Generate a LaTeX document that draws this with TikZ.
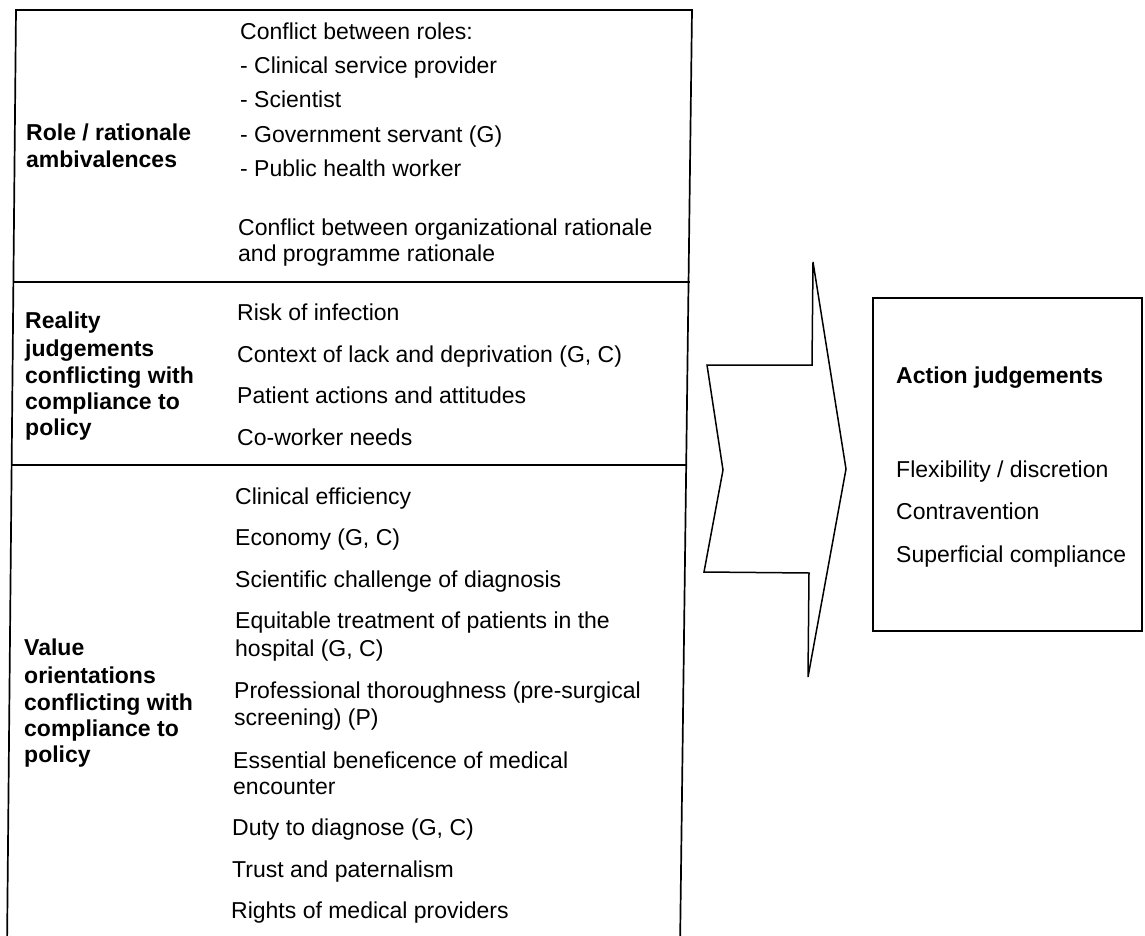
\documentclass[tikz,border=0pt]{standalone}
\usepackage{fontspec}
\setmainfont{Liberation Sans}
\begin{document}
\begin{tikzpicture}[x=1pt,y=-1pt,
  frame/.style={line width=1.7pt, line join=miter, line cap=rect},
  item/.style={anchor=base west, inner sep=0pt, font=\fontsize{23}{28}\selectfont},
  head/.style={anchor=base west, inner sep=0pt, font=\fontsize{23}{28}\selectfont\bfseries}]
\useasboundingbox (0,0) rectangle (1145,936);

% left panel: frame and section dividers
\draw[frame] (7,950) -- (16,10) -- (692,10) -- (680,950);
\draw[frame] (13.6,282) -- (688.7,282);
\draw[frame] (12,465) -- (686.5,465);

% section headings
\node[head] (h1a) at (26,141) {Role / rationale};
\node[head] (h1b) at (26,168) {ambivalences};
\node[head] (h2a) at (25,328) {Reality};
\node[head] (h2b) at (25,356) {judgements};
\node[head] (h2c) at (25,383) {conflicting with};
\node[head] (h2d) at (25,409) {compliance to};
\node[head] (h2e) at (25,435) {policy};
\node[head] (h3a) at (24,655) {Value};
\node[head] (h3b) at (24,683) {orientations};
\node[head] (h3c) at (24,710) {conflicting with};
\node[head] (h3d) at (24,736) {compliance to};
\node[head] (h3e) at (24,762) {policy};

% first section entries
\node[item] (r1) at (240,40) {Conflict between roles:};
\node[item] (r2) at (240,74) {- Clinical service provider};
\node[item] (r3) at (240,108) {- Scientist};
\node[item] (r4) at (240,143) {- Government servant (G)};
\node[item] (r5) at (240,177) {- Public health worker};
\node[item] (r6) at (238,235) {Conflict between organizational rationale};
\node[item] (r7) at (238,261) {and programme rationale};

% second section entries
\node[item] (q1) at (237,320) {Risk of infection};
\node[item] (q2) at (237,362) {Context of lack and deprivation (G, C)};
\node[item] (q3) at (237,403) {Patient actions and attitudes};
\node[item] (q4) at (237,445) {Co-worker needs};

% third section entries
\node[item] (v1) at (235,504) {Clinical efficiency};
\node[item] (v2) at (235,545) {Economy (G, C)};
\node[item] (v3) at (235,587) {Scientific challenge of diagnosis};
\node[item] (v4a) at (235,628) {Equitable treatment of patients in the};
\node[item] (v4b) at (235,656) {hospital (G, C)};
\node[item] (v5a) at (234,698) {Professional thoroughness (pre-surgical};
\node[item] (v5b) at (234,725) {screening) (P)};
\node[item] (v6a) at (233,768) {Essential beneficence of medical};
\node[item] (v6b) at (233,794) {encounter};
\node[item] (v7) at (232,835) {Duty to diagnose (G, C)};
\node[item] (v8) at (232,877) {Trust and paternalism};
\node[item] (v9) at (231,918) {Rights of medical providers};

% block arrow
\draw[line width=1.5pt, line join=miter]
  (707,365) -- (812,365) -- (813,262) -- (846,469) -- (808,677)
  -- (809,573) -- (704,572) -- (723,470) -- cycle;

% outcome box
\draw[frame] (873,298) rectangle (1142,631);
\node[head] (a0) at (896,383) {Action judgements};
\node[item] (a1) at (896,477) {Flexibility / discretion};
\node[item] (a2) at (896,519) {Contravention};
\node[item] (a3) at (896,562) {Superficial compliance};
\end{tikzpicture}
\end{document}
